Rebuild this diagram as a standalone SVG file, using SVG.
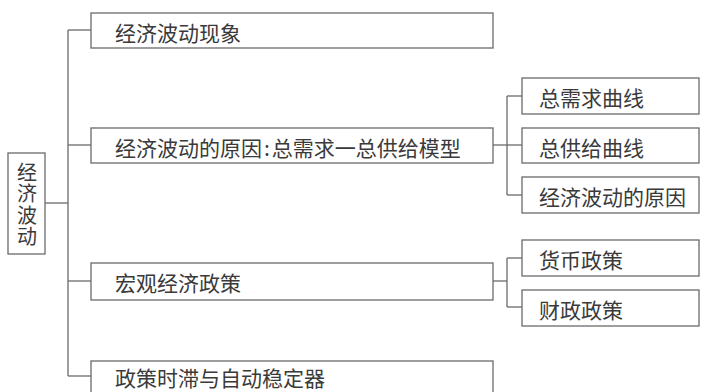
<svg xmlns="http://www.w3.org/2000/svg" width="701" height="392" viewBox="0 0 701 392">
<style>
rect.box{fill:#fff;stroke:#6a6a6a;stroke-width:1.3}
text{font-family:"Noto Sans CJK SC","Noto Sans",sans-serif;fill:#3a3a3a;font-size:21px}
.root text{font-size:20px;text-anchor:middle;writing-mode:vertical-rl;letter-spacing:1.5px}
#connectors line{stroke:#6a6a6a;stroke-width:1.3;fill:none}
</style>
<rect width="701" height="392" fill="#fff"/>
<g id="connectors">
<line x1="45" y1="203" x2="68" y2="203"/>
<line x1="68" y1="30" x2="68" y2="376"/>
<line x1="68" y1="30" x2="91" y2="30"/>
<line x1="68" y1="145" x2="91" y2="145"/>
<line x1="68" y1="281" x2="91" y2="281"/>
<line x1="68" y1="376" x2="91" y2="376"/>
<line x1="493" y1="145" x2="507" y2="145"/>
<line x1="507" y1="96" x2="507" y2="195"/>
<line x1="507" y1="96" x2="522" y2="96"/>
<line x1="507" y1="145" x2="522" y2="145"/>
<line x1="507" y1="195" x2="522" y2="195"/>
<line x1="493" y1="281" x2="507" y2="281"/>
<line x1="507" y1="258" x2="507" y2="307"/>
<line x1="507" y1="258" x2="522" y2="258"/>
<line x1="507" y1="307" x2="522" y2="307"/>
</g>
<g id="root" class="root">
<rect class="box" x="8" y="153" width="37" height="101"/>
<text x="27" y="205">经济波动</text>
</g>
<g id="n1"><rect class="box" x="91" y="13" width="402" height="35"/><text x="115" y="41">经济波动现象</text></g>
<g id="n2"><rect class="box" x="91" y="128" width="402" height="35"/><text x="115" y="156">经济波动的原因<tspan dx="2">:</tspan><tspan dx="2">总需求一总供给模型</tspan></text></g>
<g id="n3"><rect class="box" x="91" y="263" width="402" height="37"/><text x="115" y="291">宏观经济政策</text></g>
<g id="n4"><rect class="box" x="91" y="361" width="402" height="36"/><text x="115" y="386">政策时滞与自动稳定器</text></g>
<g id="n2a"><rect class="box" x="522" y="78" width="177" height="36"/><text x="539" y="106">总需求曲线</text></g>
<g id="n2b"><rect class="box" x="522" y="128" width="177" height="35"/><text x="539" y="156">总供给曲线</text></g>
<g id="n2c"><rect class="box" x="522" y="177" width="177" height="36"/><text x="539" y="205">经济波动的原因</text></g>
<g id="n3a"><rect class="box" x="522" y="240" width="177" height="36"/><text x="539" y="268">货币政策</text></g>
<g id="n3b"><rect class="box" x="522" y="290" width="177" height="36"/><text x="539" y="318">财政政策</text></g>
</svg>
